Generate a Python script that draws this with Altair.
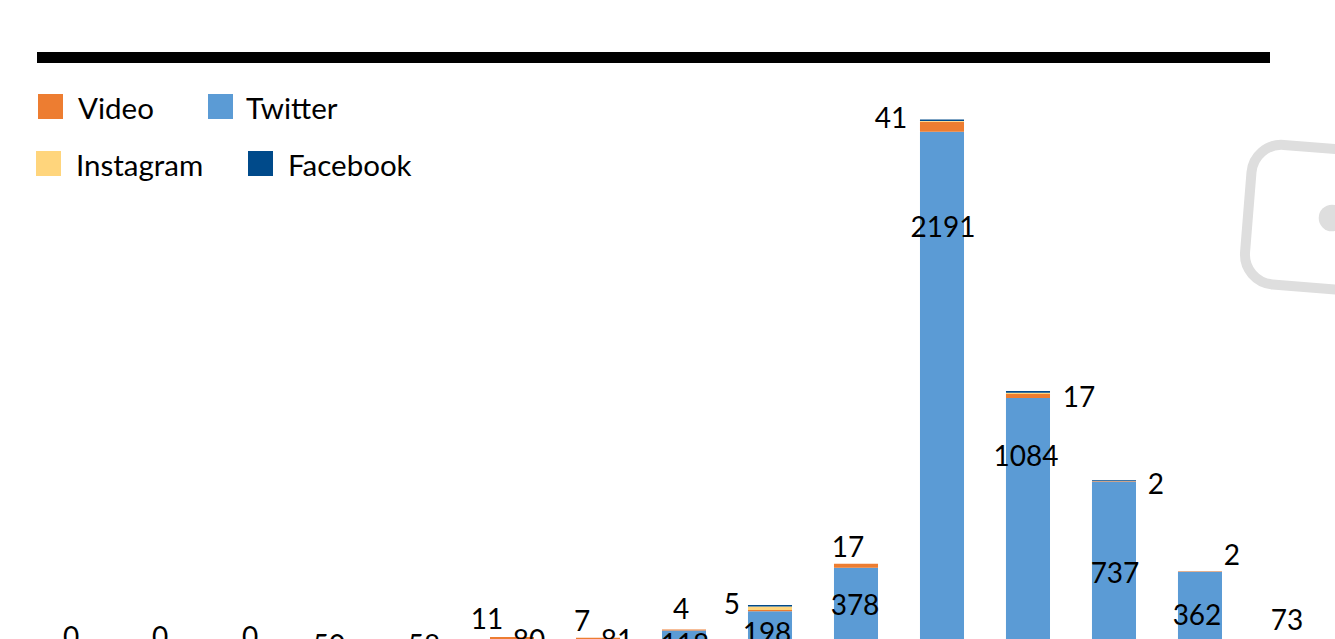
import altair as alt
import pandas as pd

# Monthly post counts per platform
periods = [f"P{i:02d}" for i in range(1, 16)]
twitter = [0, 0, 0, 50, 58, 80, 81, 118, 198, 378, 2191, 1084, 737, 362, 73]
video = [0, 0, 0, 0, 0, 11, 7, 4, 5, 17, 41, 17, 2, 2, 0]
instagram = [0, 0, 0, 0, 0, 0, 0, 0, 14, 0, 3, 5, 0, 0, 0]
facebook = [0, 0, 0, 0, 0, 0, 0, 0, 7, 0, 7, 7, 3, 0, 0]

series_names = ["Twitter", "Video", "Instagram", "Facebook"]
series_colors = ["#5B9BD5", "#ED7D31", "#FFD57C", "#004A8A"]

# Hand placement of the data labels, (dx, dy) in pixels from each segment top
twitter_nudges = [(-11, -20), (-8, -20), (-4, -20), (-11, 0), (-2, 2), (17, 2), (19, 3), (1, 16),
                  (-3, 24), (-1, 39), (1, 97), (-2, 60), (1, 94), (-3, 45), (1, -19)]
video_nudges = {5: (-25, -16), 6: (-16, -15), 7: (-3, -18), 8: (-38, -4), 9: (-8, -15),
                10: (-51, -2), 11: (51, 5), 12: (42, 5), 13: (32, -14)}

FONT = "Lato"
LABEL_SIZE = 28
LEGEND_SIZE = 29.5

rows = []
for rank, (name, values) in enumerate(zip(series_names, [twitter, video, instagram, facebook])):
    for period, value in zip(periods, values):
        rows.append({"period": period, "series": name, "value": value, "rank": rank})
stacked = pd.DataFrame(rows)

x_enc = alt.X("period:N", sort=periods, axis=None,
              scale=alt.Scale(range=[17, 1351], paddingInner=0.488, paddingOuter=0.5))
y_scale = alt.Scale(domain=[82.3, 2738.2], nice=False, zero=False)

bars = alt.Chart(stacked).mark_bar(clip=True).encode(
    x=x_enc,
    y=alt.Y("value:Q", stack="zero", axis=None, scale=y_scale),
    color=alt.Color("series:N", legend=None,
                    scale=alt.Scale(domain=series_names, range=series_colors)),
    order=alt.Order("rank:Q"),
)


def value_label(period, text, anchor, nudge):
    """One data label tied to a bar segment's top, offset by hand."""
    frame = pd.DataFrame({"period": [period], "top": [anchor], "label": [str(text)]})
    return alt.Chart(frame).mark_text(
        font=FONT, fontSize=LABEL_SIZE, color="#000000", baseline="middle",
        dx=nudge[0], dy=nudge[1],
    ).encode(x=x_enc, y=alt.Y("top:Q", axis=None, scale=y_scale), text="label:N")


labels = []
for i, period in enumerate(periods):
    labels.append(value_label(period, twitter[i], twitter[i], twitter_nudges[i]))
    if i in video_nudges:
        labels.append(value_label(period, video[i], twitter[i] + video[i], video_nudges[i]))

# Heavy rule across the top of the slide
top_rule = alt.Chart(pd.DataFrame({"k": [0]})).mark_rect(color="#000000").encode(
    x=alt.value(37), x2=alt.value(1270), y=alt.value(52), y2=alt.value(63))

# Hand-set legend in two uneven rows
legend_entries = [("Video", 38, 106.5, 78), ("Twitter", 208, 106.5, 246),
                  ("Instagram", 36, 163.5, 76), ("Facebook", 248, 163.5, 288)]
legend_layers = []
for name, swatch_x, row_y, text_x in legend_entries:
    color = series_colors[series_names.index(name)]
    one = pd.DataFrame({"label": [name]})
    legend_layers.append(alt.Chart(one).mark_rect(color=color).encode(
        x=alt.value(swatch_x), x2=alt.value(swatch_x + 25),
        y=alt.value(row_y - 12.5), y2=alt.value(row_y + 12.5)))
    legend_layers.append(alt.Chart(one).mark_text(
        font=FONT, fontSize=LEGEND_SIZE, color="#000000", align="left", baseline="middle"
    ).encode(x=alt.value(text_x), y=alt.value(row_y + 3), text="label:N"))

# Pale camera glyph running off the right edge
GLYPH = "#DEDEDE"
camera_outline = ("M -84 -40 A 30 30 0 0 1 -54 -70 L 200 -70 L 200 70 L -54 70 "
                  "A 30 30 0 0 1 -84 40 Z")
glyph_frame = alt.Chart(pd.DataFrame({"k": [0]})).mark_point(
    shape=camera_outline, size=4, angle=4.6, filled=False, stroke=GLYPH, strokeWidth=10, opacity=1,
).encode(x=alt.value(1332), y=alt.value(219))
glyph_lens = alt.Chart(pd.DataFrame({"k": [0]})).mark_circle(
    size=707, color=GLYPH, opacity=1).encode(x=alt.value(1332), y=alt.value(218))

chart = alt.layer(
    glyph_frame, glyph_lens, top_rule, *legend_layers, bars, *labels
).properties(
    width=1335, height=639, padding=0, background="#FFFFFF",
    autosize=alt.AutoSizeParams(type="none"),
).configure_view(stroke=None)

chart.save("out.html", embed_options={"renderer": "svg", "actions": False})
